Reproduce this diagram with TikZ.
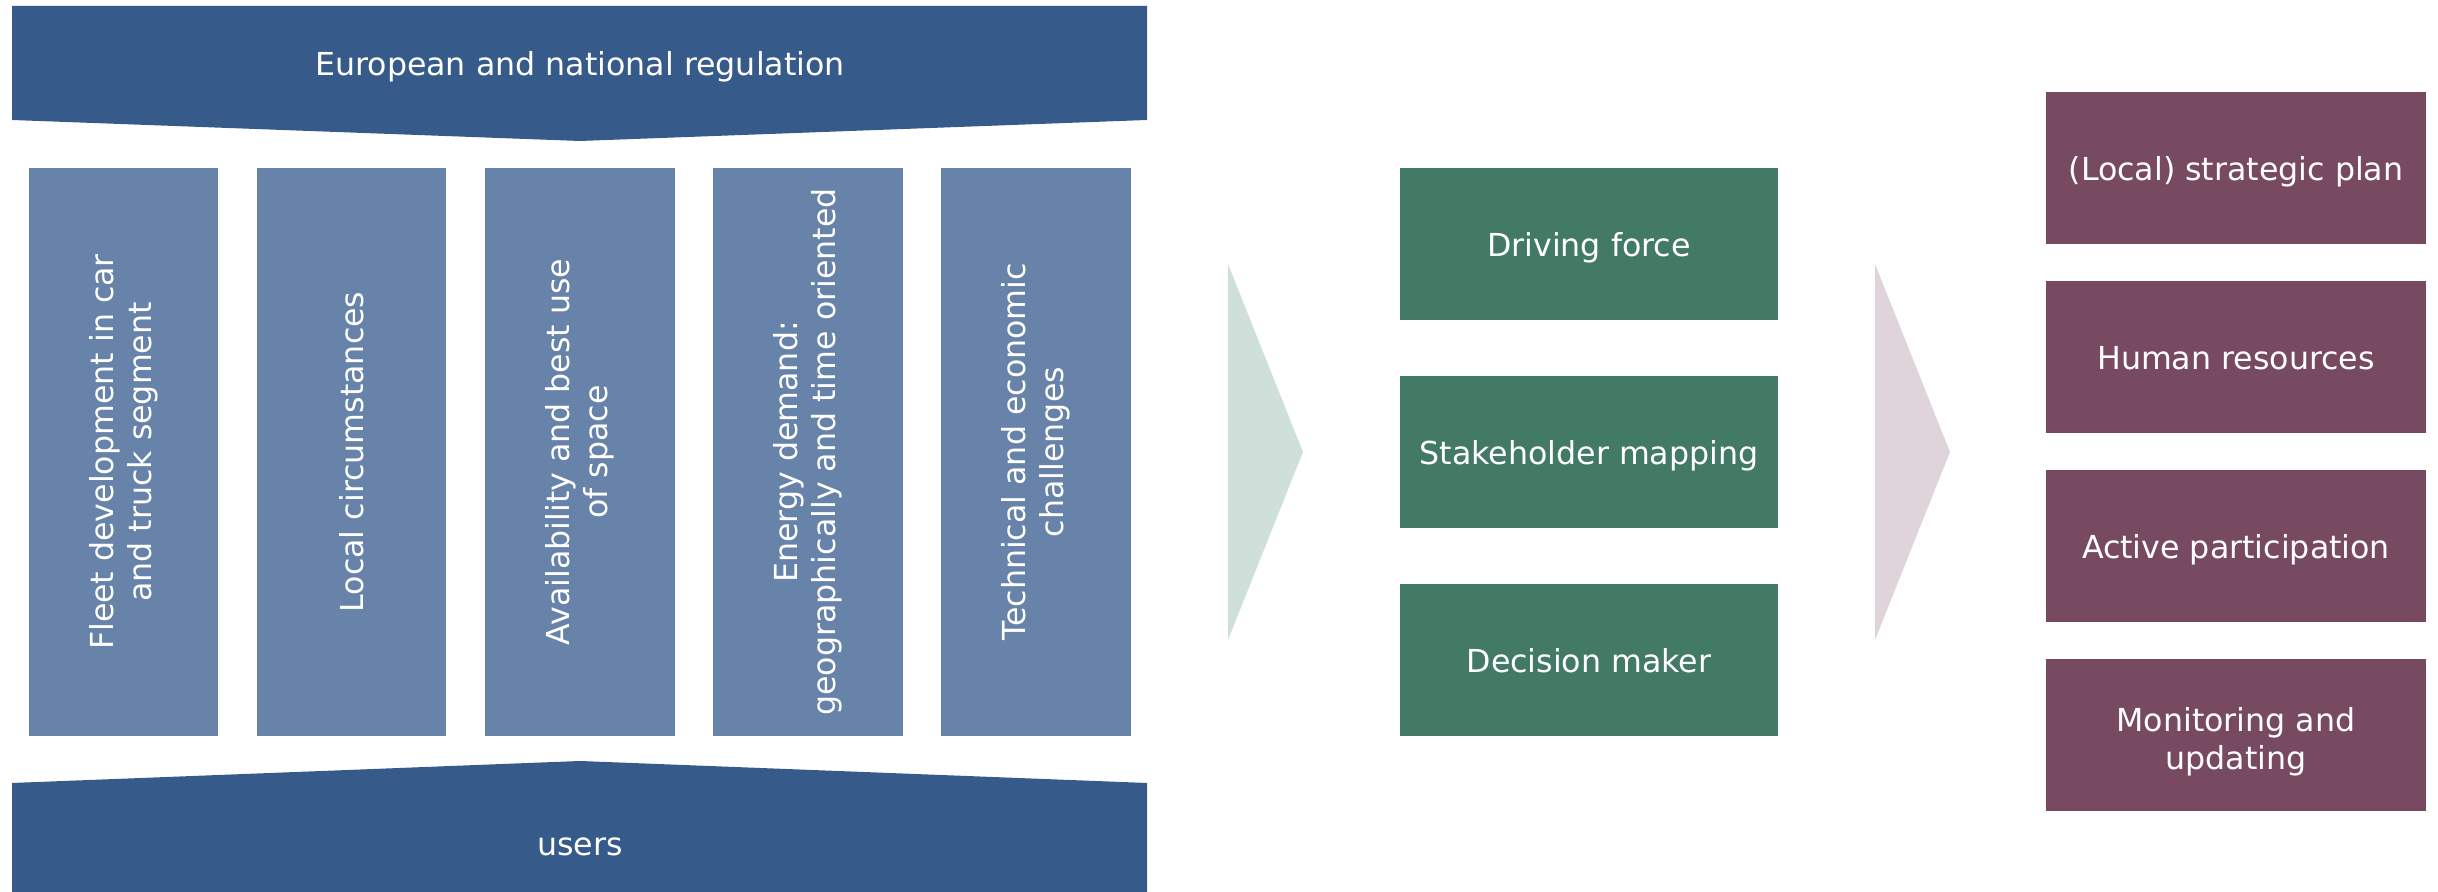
\documentclass[tikz,border=0pt]{standalone}
\usepackage{fontspec}
\setmainfont{DejaVu Sans}
\definecolor{regblue}{RGB}{54,91,138}
\definecolor{factorblue}{RGB}{104,131,169}
\definecolor{actorgreen}{RGB}{66,122,101}
\definecolor{arrowgreen}{RGB}{207,224,218}
\definecolor{planpurple}{RGB}{119,74,98}
\definecolor{arrowpink}{RGB}{222,212,218}

\begin{document}
\begin{tikzpicture}[x=0.01cm, y=-0.01cm,
    every node/.style={text=white, font=\fontsize{9}{10.8}\selectfont, align=center, inner sep=0pt},
    captext/.style={text height=9.6pt, text depth=2.25pt},
    factor/.style={fill=factorblue, minimum width=5.68cm, minimum height=1.89cm, rotate=90},
    actor/.style={captext, fill=actorgreen, minimum width=3.78cm, minimum height=1.52cm},
    plan/.style={captext, fill=planpurple, minimum width=3.8cm, minimum height=1.52cm}]
    \useasboundingbox (0,0) rectangle (2438,892);
    % framing bands
    \fill[regblue] (12,6) -- (1147,6) -- (1147,120) -- (580,141) -- (12,120) -- cycle;
    \fill[regblue] (12,783) -- (580,761) -- (1147,783) -- (1147,892) -- (12,892) -- cycle;
    \node[captext] (regulation) at (580,63) {European and national regulation};
    \node[captext] (users) at (580,843) {users};
    % factors
    \node[factor] (fleet) at (123.5,452) {Fleet development in car\\and truck segment};
    \node[factor] (local) at (351.5,452) {Local circumstances};
    \node[factor] (space) at (580,452) {Availability and best use\\of space};
    \node[factor] (energy) at (808,452) {Energy demand:\\geographically and time oriented};
    \node[factor] (challenges) at (1036,452) {Technical and economic\\challenges};
    % chevrons
    \fill[arrowgreen] (1228,264) -- (1303,452) -- (1228,640) -- cycle;
    \fill[arrowpink] (1875,264) -- (1950,452) -- (1875,640) -- cycle;
    % actors
    \node[actor] (driving) at (1589,244) {Driving force};
    \node[actor] (stakeholder) at (1589,452) {Stakeholder mapping};
    \node[actor] (decision) at (1589,660) {Decision maker};
    % plan
    \node[plan] (strategic) at (2236,168) {(Local) strategic plan};
    \node[plan] (resources) at (2236,357) {Human resources};
    \node[plan] (participation) at (2236,546) {Active participation};
    \node[plan, text height=21.6pt] (monitoring) at (2236,735) {Monitoring and\\updating};
\end{tikzpicture}
\end{document}
